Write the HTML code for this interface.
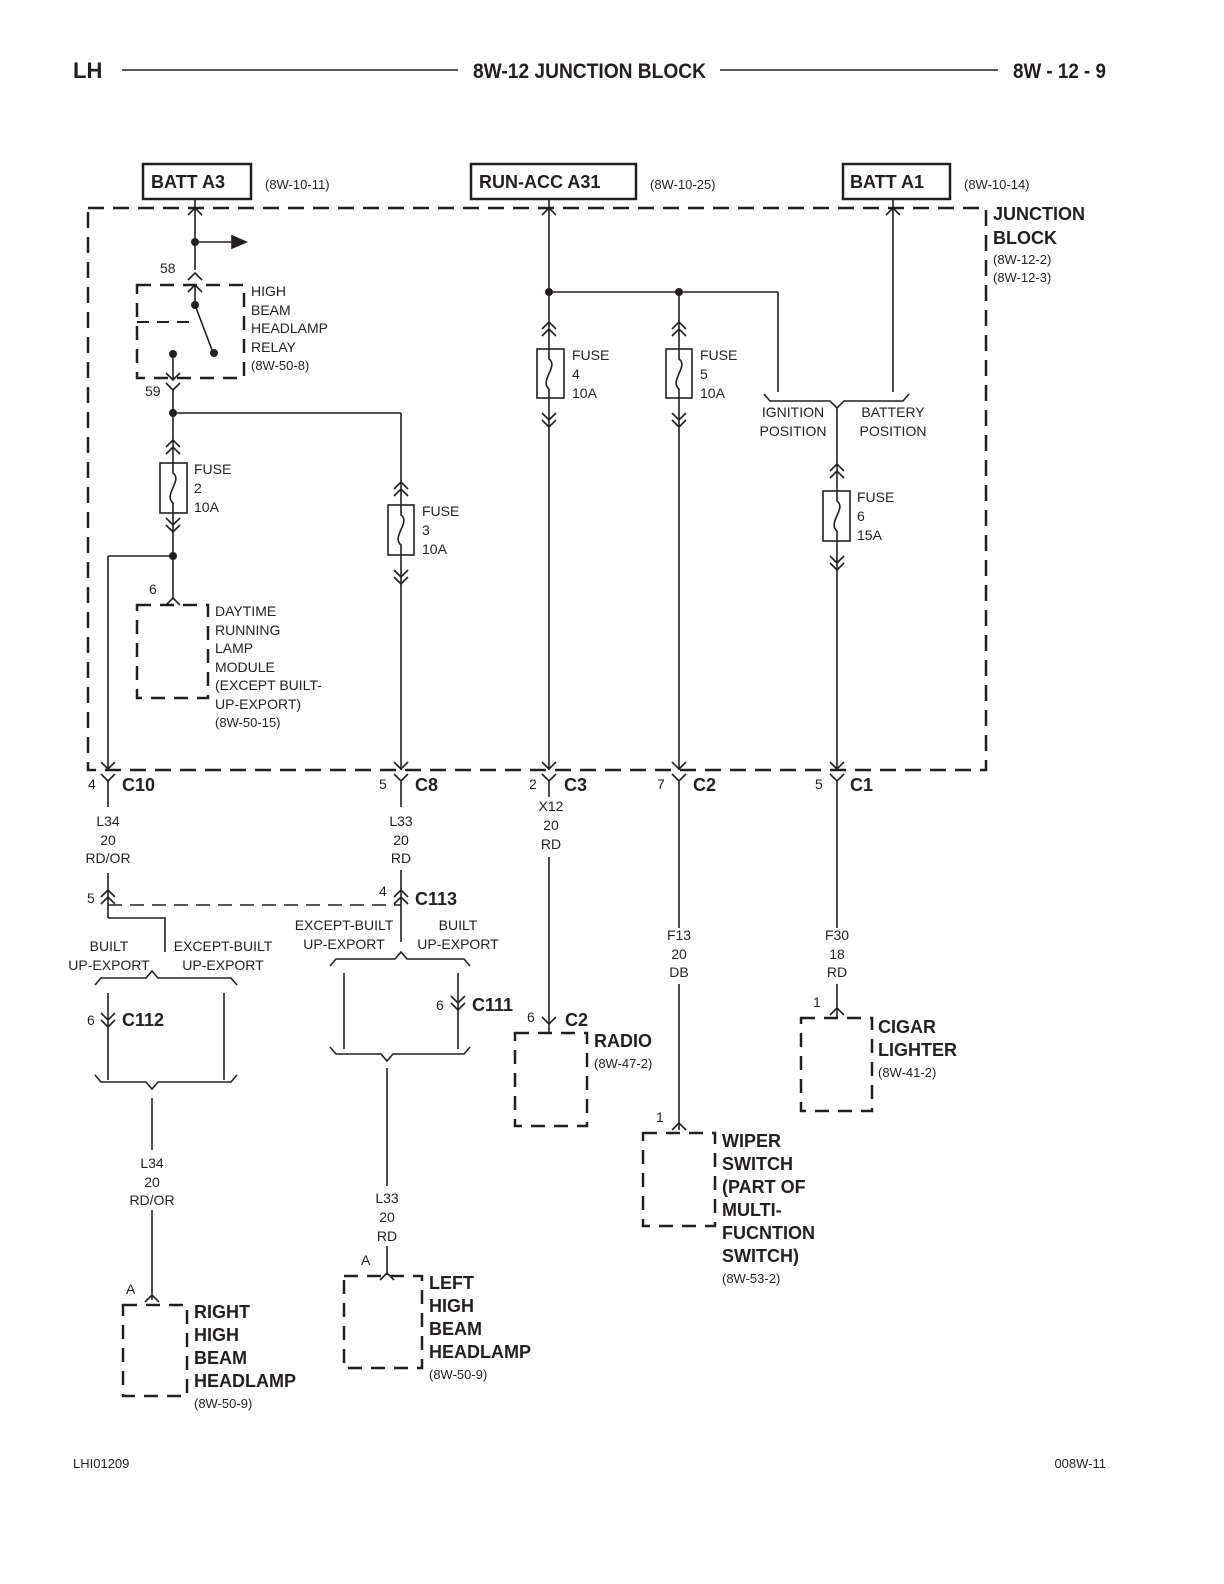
<!DOCTYPE html>
<html><head><meta charset="utf-8"><style>
html,body{margin:0;padding:0;background:#fff}
svg{display:block}
text{font-family:"Liberation Sans",Arial,sans-serif;fill:#231f20}
.s{font-size:14px}
.b{font-size:19px;font-weight:bold}
.m{font-size:13px}
</style></head><body>
<svg width="1224" height="1584" viewBox="0 0 1224 1584" xmlns="http://www.w3.org/2000/svg" stroke="#231f20" fill="none" stroke-width="2">
<!-- header -->
<text x="73" y="78" class="b" stroke="none" style="font-size:22px">LH</text>
<line x1="122" y1="70" x2="458" y2="70" stroke-width="1.5"/>
<text x="473" y="78" textLength="233" lengthAdjust="spacingAndGlyphs" stroke="none" style="font-size:21px;font-weight:bold">8W-12 JUNCTION BLOCK</text>
<line x1="720" y1="70" x2="998" y2="70" stroke-width="1.5"/>
<text x="1013" y="78" textLength="93" lengthAdjust="spacingAndGlyphs" stroke="none" style="font-size:21px;font-weight:bold">8W - 12 - 9</text>

<!-- source boxes -->
<rect x="143" y="164" width="108" height="35" stroke-width="2.5"/>
<text x="151" y="188" class="b" stroke="none" style="font-size:18px">BATT A3</text>
<text x="265" y="189" class="m" stroke="none">(8W-10-11)</text>
<rect x="471" y="164" width="165" height="35" stroke-width="2.5"/>
<text x="479" y="188" class="b" stroke="none" style="font-size:18px">RUN-ACC A31</text>
<text x="650" y="189" class="m" stroke="none">(8W-10-25)</text>
<rect x="843" y="164" width="107" height="35" stroke-width="2.5"/>
<text x="850" y="188" class="b" stroke="none" style="font-size:18px">BATT A1</text>
<text x="964" y="189" class="m" stroke="none">(8W-10-14)</text>

<!-- junction block -->
<rect x="88" y="208" width="898" height="562" stroke-width="2.5" stroke-dasharray="16,9"/>
<text x="993" y="220" class="b" stroke="none" style="font-size:18px">JUNCTION</text>
<text x="993" y="244" class="b" stroke="none" style="font-size:18px">BLOCK</text>
<text x="993" y="264" class="m" stroke="none">(8W-12-2)</text>
<text x="993" y="282" class="m" stroke="none">(8W-12-3)</text>

<g stroke-width="1.6">
<line x1="195" y1="199" x2="195" y2="270"/>
<path d="M188 215 L195 208 L202 215"/>
<line x1="195" y1="242" x2="232" y2="242"/>
<path d="M232 236 L246 242 L232 248 Z" fill="#231f20"/>
<path d="M188 280 L195 273 L202 280"/>
<line x1="195" y1="285" x2="195" y2="305"/>
<path d="M188 292 L195 285 L202 292"/>
<line x1="195" y1="305" x2="212" y2="350"/>
<line x1="137" y1="322" x2="195" y2="322" stroke-width="2" stroke-dasharray="12,8"/>
<line x1="173" y1="354" x2="173" y2="380"/>
<path d="M166 373 L173 380 L180 373"/>
<path d="M166 383 L173 390 L180 383"/>
<line x1="173" y1="390" x2="173" y2="463"/>
<line x1="173" y1="413" x2="401" y2="413"/>
<line x1="401" y1="413" x2="401" y2="505"/>
</g>
<rect x="137" y="285" width="107" height="93" stroke-width="2.5" stroke-dasharray="14,9"/>
<g fill="#231f20" stroke="none">
<circle cx="195" cy="242" r="4"/><circle cx="195" cy="305" r="4"/><circle cx="214" cy="353" r="4"/>
<circle cx="173" cy="354" r="4"/><circle cx="173" cy="413" r="4"/><circle cx="173" cy="556" r="4"/>
<circle cx="549" cy="292" r="4"/><circle cx="679" cy="292" r="4"/>
</g>
<g stroke="none" class="s">
<text x="160" y="273" class="s">58</text>
<text x="145" y="396" class="s">59</text>
<text x="251" y="296" class="s">HIGH</text><text x="251" y="315" class="s">BEAM</text>
<text x="251" y="333" class="s">HEADLAMP</text><text x="251" y="352" class="s">RELAY</text>
<text x="251" y="370" class="m">(8W-50-8)</text>
</g>

<g stroke-width="1.6">
<path d="M166 447 L173 440 L180 447 M166 454 L173 447 L180 454"/>
<rect x="160" y="463" width="27" height="50"/>
<path d="M173 463 L173 473 C 183 480 163 495 173 503 L173 513"/>
<path d="M166 518 L173 525 L180 518 M166 525 L173 532 L180 525"/>
<line x1="173" y1="513" x2="173" y2="598"/>
<line x1="173" y1="556" x2="108" y2="556"/>
<line x1="108" y1="556" x2="108" y2="770"/>
<path d="M101 762 L108 769 L115 762"/>
<path d="M166 605 L173 598 L180 605"/>
<path d="M394 489 L401 482 L408 489 M394 496 L401 489 L408 496"/>
<rect x="388" y="505" width="26" height="50"/>
<path d="M401 505 L401 515 C 411 522 391 537 401 545 L401 555"/>
<path d="M394 570 L401 577 L408 570 M394 577 L401 584 L408 577"/>
<line x1="401" y1="555" x2="401" y2="770"/>
<path d="M394 762 L401 769 L408 762"/>
<line x1="549" y1="199" x2="549" y2="770"/>
<path d="M542 215 L549 208 L556 215"/>
<line x1="549" y1="292" x2="778" y2="292"/>
<line x1="778" y1="292" x2="778" y2="392"/>
<path d="M542 329 L549 322 L556 329 M542 336 L549 329 L556 336"/>
<rect x="537" y="349" width="27" height="49" fill="#fff"/>
<path d="M549 349 L549 359 C 559 366 539 381 549 389 L549 398"/>
<path d="M542 413 L549 420 L556 413 M542 420 L549 427 L556 420"/>
<path d="M542 762 L549 769 L556 762"/>
<line x1="679" y1="292" x2="679" y2="770"/>
<path d="M672 329 L679 322 L686 329 M672 336 L679 329 L686 336"/>
<rect x="666" y="349" width="26" height="49" fill="#fff"/>
<path d="M679 349 L679 359 C 689 366 669 381 679 389 L679 398"/>
<path d="M672 413 L679 420 L686 413 M672 420 L679 427 L686 420"/>
<path d="M672 762 L679 769 L686 762"/>
<line x1="893" y1="199" x2="893" y2="392"/>
<path d="M886 215 L893 208 L900 215"/>
<path d="M764 394 L770 401 L830 401 L837 408 L844 401 L903 401 L909 394"/>
<line x1="837" y1="408" x2="837" y2="770"/>
<path d="M830 471 L837 464 L844 471 M830 478 L837 471 L844 478"/>
<rect x="823" y="491" width="27" height="50" fill="#fff"/>
<path d="M837 491 L837 501 C 847 508 827 523 837 531 L837 541"/>
<path d="M830 556 L837 563 L844 556 M830 563 L837 570 L844 563"/>
<path d="M830 762 L837 769 L844 762"/>
</g>
<g stroke="none" class="s">
<text x="194" y="474" class="s">FUSE</text><text x="194" y="493" class="s">2</text><text x="194" y="512" class="s">10A</text>
<text x="422" y="516" class="s">FUSE</text><text x="422" y="535" class="s">3</text><text x="422" y="554" class="s">10A</text>
<text x="572" y="360" class="s">FUSE</text><text x="572" y="379" class="s">4</text><text x="572" y="398" class="s">10A</text>
<text x="700" y="360" class="s">FUSE</text><text x="700" y="379" class="s">5</text><text x="700" y="398" class="s">10A</text>
<text x="857" y="502" class="s">FUSE</text><text x="857" y="521" class="s">6</text><text x="857" y="540" class="s">15A</text>
<text x="793" y="417" text-anchor="middle" class="s">IGNITION</text><text x="793" y="436" text-anchor="middle" class="s">POSITION</text>
<text x="893" y="417" text-anchor="middle" class="s">BATTERY</text><text x="893" y="436" text-anchor="middle" class="s">POSITION</text>
<text x="149" y="594" class="s">6</text>
<text x="215" y="616" class="s">DAYTIME</text><text x="215" y="635" class="s">RUNNING</text><text x="215" y="653" class="s">LAMP</text>
<text x="215" y="672" class="s">MODULE</text><text x="215" y="690" class="s">(EXCEPT BUILT-</text><text x="215" y="709" class="s">UP-EXPORT)</text>
<text x="215" y="727" class="m">(8W-50-15)</text>
</g>
<rect x="137" y="605" width="71" height="93" stroke-width="2.5" stroke-dasharray="14,9"/>

<g stroke-width="1.6">
<path d="M101 774 L108 781 L115 774 M108 781 L108 807"/>
<path d="M394 774 L401 781 L408 774 M401 781 L401 807"/>
<path d="M542 774 L549 781 L556 774 M549 781 L549 797"/>
<path d="M672 774 L679 781 L686 774 M679 781 L679 928"/>
<path d="M830 774 L837 781 L844 774 M837 781 L837 928"/>
<line x1="108" y1="873" x2="108" y2="918"/>
<path d="M101 897 L108 890 L115 897 M101 904 L108 897 L115 904"/>
<line x1="108" y1="905" x2="401" y2="905" stroke-dasharray="14,8"/>
<path d="M108 918 L165 918 L165 952"/>
<path d="M95 985 L101 978 L146 978 L152 971 L158 978 L231 978 L237 985"/>
<line x1="108" y1="993" x2="108" y2="1080"/>
<path d="M101 1013 L108 1020 L115 1013 M101 1020 L108 1027 L115 1020"/>
<line x1="224" y1="993" x2="224" y2="1080"/>
<path d="M95 1075 L101 1082 L146 1082 L152 1089 L158 1082 L231 1082 L237 1075"/>
<line x1="152" y1="1098" x2="152" y2="1150"/>
<line x1="152" y1="1210" x2="152" y2="1300"/>
<path d="M145 1302 L152 1295 L159 1302"/>
<line x1="401" y1="870" x2="401" y2="942"/>
<path d="M394 897 L401 890 L408 897 M394 904 L401 897 L408 904"/>
<path d="M330 966 L336 959 L395 959 L401 952 L407 959 L464 959 L470 966"/>
<line x1="344" y1="973" x2="344" y2="1049"/>
<line x1="458" y1="973" x2="458" y2="1049"/>
<path d="M451 996 L458 1003 L465 996 M451 1003 L458 1010 L465 1003"/>
<path d="M330 1047 L336 1054 L381 1054 L387 1061 L393 1054 L464 1054 L470 1047"/>
<line x1="387" y1="1068" x2="387" y2="1186"/>
<line x1="387" y1="1246" x2="387" y2="1275"/>
<path d="M380 1280 L387 1273 L394 1280"/>
<line x1="549" y1="857" x2="549" y2="1033"/>
<path d="M542 1017 L549 1024 L556 1017"/>
<line x1="679" y1="984" x2="679" y2="1130"/>
<path d="M672 1130 L679 1123 L686 1130"/>
<line x1="837" y1="984" x2="837" y2="1018"/>
<path d="M830 1015 L837 1008 L844 1015"/>
</g>
<g stroke-width="2.5" stroke-dasharray="14,9">
<rect x="123" y="1305" width="64" height="91"/>
<rect x="344" y="1276" width="78" height="92"/>
<rect x="515" y="1033" width="72" height="93"/>
<rect x="643" y="1133" width="72" height="93"/>
<rect x="801" y="1018" width="71" height="93"/>
</g>

<g stroke="none">
<text x="88" y="789" class="s">4</text><text x="122" y="791" class="b" style="font-size:18px">C10</text>
<text x="379" y="789" class="s">5</text><text x="415" y="791" class="b" style="font-size:18px">C8</text>
<text x="529" y="789" class="s">2</text><text x="564" y="791" class="b" style="font-size:18px">C3</text>
<text x="657" y="789" class="s">7</text><text x="693" y="791" class="b" style="font-size:18px">C2</text>
<text x="815" y="789" class="s">5</text><text x="850" y="791" class="b" style="font-size:18px">C1</text>
<g text-anchor="middle" class="s">
<text x="108" y="826" class="s">L34</text><text x="108" y="845" class="s">20</text><text x="108" y="863" class="s">RD/OR</text>
<text x="401" y="826" class="s">L33</text><text x="401" y="845" class="s">20</text><text x="401" y="863" class="s">RD</text>
<text x="551" y="811" class="s">X12</text><text x="551" y="830" class="s">20</text><text x="551" y="849" class="s">RD</text>
<text x="679" y="940" class="s">F13</text><text x="679" y="959" class="s">20</text><text x="679" y="977" class="s">DB</text>
<text x="837" y="940" class="s">F30</text><text x="837" y="959" class="s">18</text><text x="837" y="977" class="s">RD</text>
<text x="152" y="1168" class="s">L34</text><text x="152" y="1187" class="s">20</text><text x="152" y="1205" class="s">RD/OR</text>
<text x="387" y="1203" class="s">L33</text><text x="387" y="1222" class="s">20</text><text x="387" y="1241" class="s">RD</text>
<text x="109" y="951" class="s">BUILT</text><text x="109" y="970" class="s">UP-EXPORT</text>
<text x="223" y="951" class="s">EXCEPT-BUILT</text><text x="223" y="970" class="s">UP-EXPORT</text>
<text x="344" y="930" class="s">EXCEPT-BUILT</text><text x="344" y="949" class="s">UP-EXPORT</text>
<text x="458" y="930" class="s">BUILT</text><text x="458" y="949" class="s">UP-EXPORT</text>
</g>
<text x="87" y="903" class="s">5</text>
<text x="379" y="896" class="s">4</text><text x="415" y="905" class="b" style="font-size:18px">C113</text>
<text x="87" y="1025" class="s">6</text><text x="122" y="1026" class="b" style="font-size:18px">C112</text>
<text x="436" y="1010" class="s">6</text><text x="472" y="1011" class="b" style="font-size:18px">C111</text>
<text x="527" y="1022" class="s">6</text><text x="565" y="1026" class="b" style="font-size:18px">C2</text>
<text x="594" y="1047" class="b" style="font-size:18px">RADIO</text><text x="594" y="1068" class="m">(8W-47-2)</text>
<text x="656" y="1122" class="s">1</text>
<text x="722" y="1147" class="b" style="font-size:18px">WIPER</text>
<text x="722" y="1170" class="b" style="font-size:18px">SWITCH</text>
<text x="722" y="1193" class="b" style="font-size:18px">(PART OF</text>
<text x="722" y="1216" class="b" style="font-size:18px">MULTI-</text>
<text x="722" y="1239" class="b" style="font-size:18px">FUCNTION</text>
<text x="722" y="1262" class="b" style="font-size:18px">SWITCH)</text>
<text x="722" y="1283" class="m">(8W-53-2)</text>
<text x="813" y="1007" class="s">1</text>
<text x="878" y="1033" class="b" style="font-size:18px">CIGAR</text>
<text x="878" y="1056" class="b" style="font-size:18px">LIGHTER</text>
<text x="878" y="1077" class="m">(8W-41-2)</text>
<text x="126" y="1294" class="s">A</text>
<text x="194" y="1318" class="b" style="font-size:18px">RIGHT</text>
<text x="194" y="1341" class="b" style="font-size:18px">HIGH</text>
<text x="194" y="1364" class="b" style="font-size:18px">BEAM</text>
<text x="194" y="1387" class="b" style="font-size:18px">HEADLAMP</text>
<text x="194" y="1408" class="m">(8W-50-9)</text>
<text x="361" y="1265" class="s">A</text>
<text x="429" y="1289" class="b" style="font-size:18px">LEFT</text>
<text x="429" y="1312" class="b" style="font-size:18px">HIGH</text>
<text x="429" y="1335" class="b" style="font-size:18px">BEAM</text>
<text x="429" y="1358" class="b" style="font-size:18px">HEADLAMP</text>
<text x="429" y="1379" class="m">(8W-50-9)</text>
<text x="73" y="1468" class="m">LHI01209</text>
<text x="1106" y="1468" text-anchor="end" class="m">008W-11</text>
</g>
</svg>
</body></html>
